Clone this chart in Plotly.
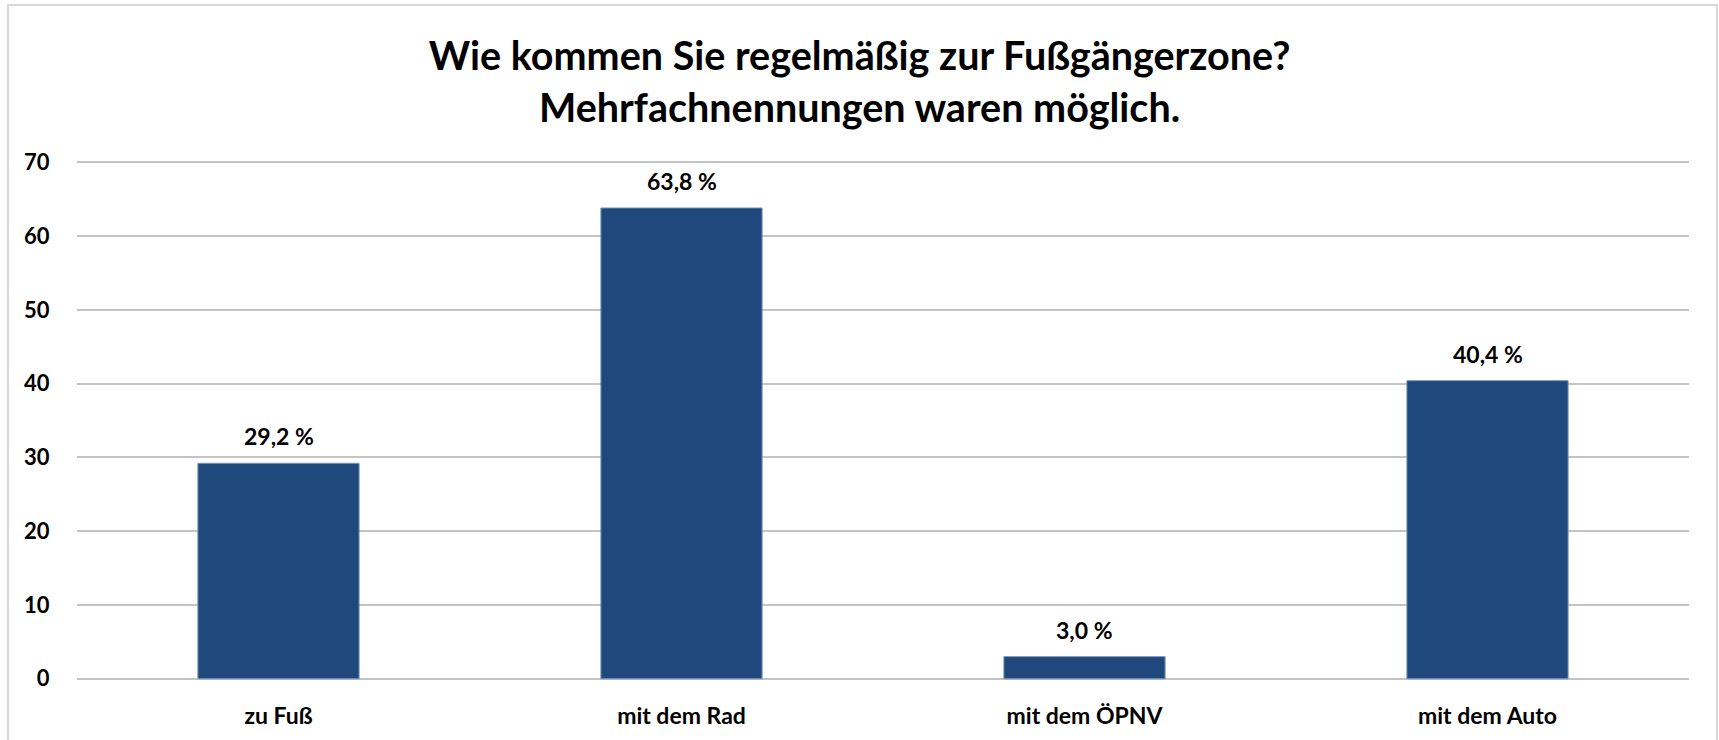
import plotly.graph_objects as go

categories = ["zu Fuß", "mit dem Rad", "mit dem ÖPNV", "mit dem Auto"]
values = [29.2, 63.8, 3.0, 40.4]
title_line1 = "Wie kommen Sie regelmäßig zur Fußgängerzone?"
title_line2 = "Mehrfachnennungen waren möglich."
y_ticks = [0, 10, 20, 30, 40, 50, 60, 70]

W, H = 1719, 740
ML, MR, MT, MB = 77, 30, 160, 59
PW, PH = W - ML - MR, H - MT - MB


def px_x(x):
    return (x - ML) / PW


def px_y(y):
    return (H - MB - y) / PH


FONT = "Lato"
BAR = "#1F497D"

fig = go.Figure()
fig.add_trace(go.Bar(
    x=categories, y=values,
    marker=dict(color=BAR, line=dict(color="#7a94b8", width=1)),
    hoverinfo="skip",
))

annotations = []
for c, v in zip(categories, values):
    annotations.append(dict(
        x=c, y=v, xref="x", yref="y",
        text="<b>" + f"{v:.1f}".replace(".", ",") + " %</b>",
        showarrow=False, yanchor="middle", yshift=27,
        font=dict(family=FONT, size=23, color="#000000"),
    ))

annotations.append(dict(
    x=px_x(W / 2), y=px_y(106),
    xref="paper", yref="paper", text="<b>" + title_line2 + "</b>",
    showarrow=False, xanchor="center", yanchor="middle",
    font=dict(family=FONT, size=39.5, color="#000000"),
))

fig.update_layout(
    width=W, height=H,
    margin=dict(l=ML, r=MR, t=MT, b=MB, autoexpand=False),
    paper_bgcolor="white", plot_bgcolor="white",
    showlegend=False,
    bargap=0.6,
    title=dict(
        text="<b>" + title_line1 + "</b>",
        x=px_x(W / 2), xanchor="center", xref="paper",
        y=1 - 56 / H, yanchor="middle", yref="container",
        font=dict(family=FONT, size=39.5, color="#000000"),
    ),
    annotations=annotations,
    xaxis=dict(
        showgrid=False, showline=False, zeroline=False, automargin=False,
        ticks="outside", ticklen=14, tickcolor="rgba(0,0,0,0)",
        tickfont=dict(family=FONT, size=23, color="#000000", weight="bold"),
        fixedrange=True,
    ),
    yaxis=dict(
        range=[-0.3, 70.3], tickvals=y_ticks, automargin=False,
        showgrid=True, gridcolor="#c4c4c4", gridwidth=1.5,
        zeroline=False, showline=False,
        ticks="outside", ticklen=22, tickcolor="rgba(0,0,0,0)",
        tickfont=dict(family=FONT, size=22, color="#000000", weight="bold"),
        tickformat="d",
        fixedrange=True,
    ),
    shapes=[dict(
        type="rect", xref="paper", yref="paper",
        x0=px_x(8), x1=px_x(1717),
        y0=px_y(760), y1=px_y(5),
        line=dict(color="#d9d9d9", width=2), fillcolor="rgba(0,0,0,0)",
        layer="below",
    )],
)

fig.write_html(
    "out.html",
    config={"displayModeBar": False},
    post_script="document.body.style.margin='0';document.body.style.overflow='hidden';",
)
